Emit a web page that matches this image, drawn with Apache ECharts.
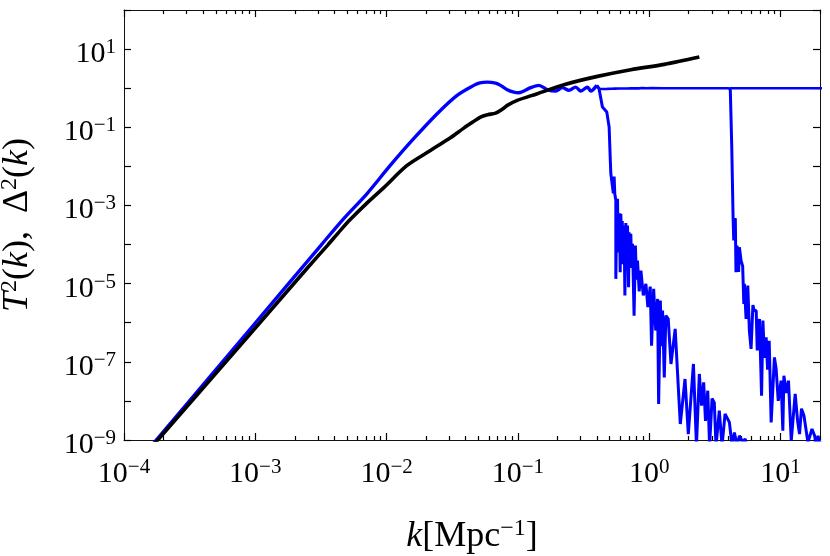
<!DOCTYPE html>
<html>
<head>
<meta charset="utf-8">
<script src="https://cdn.jsdelivr.net/npm/echarts@6/dist/echarts.min.js"></script>
<style>
html, body { margin: 0; padding: 0; background: #fff; }
#chart { width: 830px; height: 556px; }
</style>
</head>
<body>
<div id="chart"></div>
<script>
// values, in decades: [log10 k, log10 value]
var blackCurve = [
    [-3.83, -9.34], [-3.743, -9.0], [-3.0, -6.136], [-2.6, -4.588], [-2.45, -4.02],
    [-2.35, -3.63], [-2.277, -3.36], [-2.15, -2.94], [-2.023, -2.55], [-1.844, -1.977],
    [-1.666, -1.593], [-1.514, -1.268], [-1.412, -1.022], [-1.34, -0.86], [-1.285, -0.74],
    [-1.23, -0.68], [-1.17, -0.638], [-1.12, -0.54], [-1.081, -0.44], [-1.005, -0.312],
    [-0.852, -0.141], [-0.649, 0.09], [-0.394, 0.302], [-0.14, 0.474], [0.115, 0.609],
    [0.382, 0.796]
]

// shared rising part of the three blue curves
var blueRise = [
    [-3.83, -9.3], [-3.754, -9.0], [-3.0, -6.007], [-2.5, -4.02], [-2.328, -3.342],
    [-2.15, -2.702], [-1.972, -1.977], [-1.794, -1.293], [-1.615, -0.653], [-1.463, -0.184],
    [-1.336, 0.072], [-1.29, 0.135], [-1.234, 0.156], [-1.17, 0.13], [-1.132, 0.072],
    [-1.081, -0.038], [-1.031, -0.1], [-0.992, -0.115], [-0.903, 0.013], [-0.84, 0.072],
    [-0.776, -0.038], [-0.712, -0.074], [-0.661, 0.013], [-0.611, -0.056], [-0.56, 0.028],
    [-0.521, -0.074], [-0.47, 0.028], [-0.445, -0.074], [-0.399, 0.072]
]

// small wiggles around 1 before the plateau
var blueRipple = [
    [-0.399, 0.072], [-0.38, -0.02], [-0.365, 0.025], [-0.35, -0.02], [-0.335, 0.02],
    [-0.32, -0.018], [-0.305, 0.018], [-0.29, -0.015], [-0.275, 0.015], [-0.26, -0.012],
    [-0.245, 0.012], [-0.23, -0.01], [-0.215, 0.01], [-0.2, -0.008], [-0.185, 0.008],
    [-0.17, -0.007], [-0.155, 0.007], [-0.14, -0.006], [-0.125, 0.006], [-0.11, -0.005],
    [-0.095, 0.005], [-0.08, -0.004], [-0.05, 0.004], [-0.02, -0.003], [0.02, 0.003],
    [0.1, 0], [0.612, 0]
]

// cut-off near k = 0.4
var blueTailA = [
    [-0.399, 0.072], [-0.382, -0.013], [-0.356, -0.484], [-0.323, -0.612], [-0.305, -0.996],
    [-0.296, -1.849], [-0.292, -2.19], [-0.279, -2.233], [-0.273, -2.69], [-0.267, -2.26],
    [-0.262, -2.702], [-0.254, -2.873], [-0.254, -4.878], [-0.246, -2.95], [-0.241, -2.83],
    [-0.236, -4.2], [-0.231, -3.301], [-0.226, -3.2], [-0.221, -4.709], [-0.216, -3.214],
    [-0.21, -3.9], [-0.205, -3.4], [-0.198, -4.5], [-0.191, -3.513], [-0.185, -5.306],
    [-0.178, -3.45], [-0.171, -4.6], [-0.165, -3.513], [-0.157, -5.093], [-0.153, -3.685],
    [-0.147, -4.4], [-0.14, -3.726], [-0.133, -4.6], [-0.127, -3.982], [-0.115, -5.818],
    [-0.105, -4.026], [-0.097, -4.9], [-0.089, -4.41], [-0.076, -5.2], [-0.063, -4.666],
    [-0.045, -5.3], [-0.025, -5.006], [-0.01, -5.6], [0.008, -5.076], [0.018, -6.587],
    [0.034, -5.134], [0.05, -6.2], [0.064, -5.391], [0.072, -8.079], [0.085, -5.434],
    [0.094, -6.6], [0.102, -5.69], [0.115, -7.398], [0.127, -5.818], [0.145, -5.903],
    [0.166, -7.055], [0.198, -6.159], [0.237, -8.591], [0.273, -7.439], [0.298, -8.848],
    [0.337, -7.055], [0.36, -9.147], [0.382, -7.311], [0.399, -8.12], [0.415, -7.526],
    [0.429, -8.51], [0.446, -7.739], [0.46, -9.15], [0.479, -7.94], [0.496, -8.046],
    [0.509, -9.15], [0.534, -8.25], [0.555, -9.15], [0.578, -8.33], [0.611, -8.55],
    [0.631, -9.15], [0.649, -8.81], [0.67, -9.15], [0.687, -8.89], [0.713, -9.06],
    [0.731, -8.97], [0.753, -9.3]
]

// cut-off near k = 4
var blueTailB = [
    [0.612, 0], [0.618, -0.056], [0.629, -1.508], [0.639, -3.301], [0.644, -3.898],
    [0.649, -3.385], [0.656, -3.33], [0.661, -4.709], [0.669, -4.026], [0.675, -4.0],
    [0.681, -4.7], [0.687, -4.069], [0.7, -4.41], [0.712, -4.55], [0.721, -5.519],
    [0.725, -5.006], [0.738, -5.903], [0.751, -5.05], [0.763, -6.2], [0.776, -6.671],
    [0.79, -5.55], [0.799, -5.69], [0.815, -5.69], [0.823, -6.71], [0.84, -5.903],
    [0.856, -7.867], [0.866, -5.946], [0.878, -6.9], [0.891, -6.374], [0.902, -7.2],
    [0.914, -6.459], [0.929, -8.55], [0.954, -6.886], [0.967, -7.183], [0.983, -8.0],
    [1.005, -7.482], [1.018, -8.762], [1.026, -7.354], [1.045, -7.8], [1.061, -7.482],
    [1.082, -9.02], [1.112, -7.823], [1.13, -8.5], [1.145, -8.848], [1.16, -8.2],
    [1.179, -8.379], [1.209, -9.062], [1.24, -8.719], [1.26, -8.89], [1.273, -9.15],
    [1.286, -8.89], [1.303, -9.15], [1.33, -9.02]
]

// no cut-off: plateau runs past the right edge
var blueFlat = [[0.612, 0], [1.4, 0]]

var xMajor = [1e-4, 1e-3, 1e-2, 1e-1, 1, 10]
var yLabelled = [1e-9, 1e-7, 1e-5, 1e-3, 1e-1, 10]

var xMinor = []
xMajor.forEach(function (d) {
    for (var m = 2; m <= 9; m++) {
        if (d * m <= 20) xMinor.push(d * m)
    }
})

var serif = '"Liberation Serif", "DejaVu Serif", serif'

function toPoints(list) {
    return list.map(function (p) {
        return [Math.pow(10, p[0]), Math.pow(10, p[1])]
    })
}

function powLabel(v) {
    var e = Math.round(Math.log10(v))
    return '{b|10}{s|' + (e < 0 ? '\u2212' + (-e) : e) + '}'
}

var labelRich = {
    b: { fontFamily: serif, fontSize: 30, lineHeight: 34, color: '#000' },
    s: { fontFamily: serif, fontSize: 21, lineHeight: 34, verticalAlign: 'top', color: '#000' }
}
var tickLine = { color: '#000', width: 1.2 }
var frameLine = { show: true, onZero: false, lineStyle: { color: '#111', width: 1 } }

function xAx(pos, ticks, len, showLine) {
    return {
        type: 'log', min: 1e-4, max: 20, position: pos,
        axisLine: showLine ? frameLine : { show: false },
        axisTick: { show: true, inside: true, length: len, customValues: ticks, lineStyle: tickLine },
        axisLabel: { show: false },
        splitLine: { show: false }
    }
}

var xAxes = [
    xAx('bottom', xMajor, 7, true),
    xAx('bottom', xMinor, 4, false),
    xAx('top', xMajor, 7, true),
    xAx('top', xMinor, 4, false)
]
xAxes[0].axisLabel = { show: true, customValues: xMajor, margin: 17, formatter: powLabel, rich: labelRich }

var titleRich = {
    i: { fontFamily: serif, fontStyle: 'italic', fontSize: 36, lineHeight: 40, color: '#000' },
    r: { fontFamily: serif, fontSize: 36, lineHeight: 40, color: '#000' },
    s: { fontFamily: serif, fontSize: 24, lineHeight: 40, verticalAlign: 'top', color: '#000' }
}
xAxes[0].name = '{i|k}{r|[Mpc}{s|\u22121}{r|]}'
xAxes[0].nameLocation = 'middle'
xAxes[0].nameGap = 77
xAxes[0].nameTextStyle = { rich: titleRich }

var yAxes = [
    {
        type: 'log', min: 1e-9, max: 100, interval: 1, position: 'left',
        axisLine: frameLine,
        axisTick: { show: true, inside: true, length: 7, lineStyle: tickLine },
        axisLabel: {
            show: true, customValues: yLabelled, margin: 8, padding: [10, 0, 0, 0],
            formatter: powLabel, rich: labelRich
        },
        splitLine: { show: false },
        name: '{i|T}{s|2}{r|(}{i|k}{r|),\u2002\u0394}{s|2}{r|(}{i|k}{r|)}',
        nameLocation: 'middle',
        nameRotate: 90,
        nameGap: 86,
        nameTextStyle: { rich: titleRich }
    },
    {
        type: 'log', min: 1e-9, max: 100, interval: 1, position: 'right',
        axisLine: frameLine,
        axisTick: { show: true, inside: true, length: 7, lineStyle: tickLine },
        axisLabel: { show: false },
        splitLine: { show: false }
    }
]

var blueStyle = { color: '#0000ff', width: 3 }

var option = {
    animation: false,
    backgroundColor: '#fff',
    grid: { left: 124, top: 10, width: 696, height: 430, containLabel: false, outerBoundsMode: 'none' },
    xAxis: xAxes,
    yAxis: yAxes,
    series: [
        {
            type: 'line', name: 'rise', symbol: 'none', smooth: 0.3,
            data: toPoints(blueRise), lineStyle: { color: '#0000ff', width: 3.4 }, z: 2
        },
        {
            type: 'line', name: 'cutoff 0.4', symbol: 'none',
            data: toPoints(blueTailA), lineStyle: blueStyle, z: 2
        },
        {
            type: 'line', name: 'ripple', symbol: 'none',
            data: toPoints(blueRipple), lineStyle: { color: '#0000ff', width: 2.6 }, z: 2
        },
        {
            type: 'line', name: 'cutoff 4', symbol: 'none',
            data: toPoints(blueTailB), lineStyle: blueStyle, z: 2
        },
        {
            type: 'line', name: 'no cutoff', symbol: 'none',
            data: toPoints(blueFlat), lineStyle: { color: '#0000ff', width: 2.6 }, z: 2
        },
        {
            type: 'line', name: 'matter', symbol: 'none', smooth: 0.3,
            data: toPoints(blackCurve), lineStyle: { color: '#000', width: 3.6 }, z: 3
        }
    ]
}

var myChart = echarts.init(document.getElementById('chart'))
myChart.setOption(option)
</script>
</body>
</html>
